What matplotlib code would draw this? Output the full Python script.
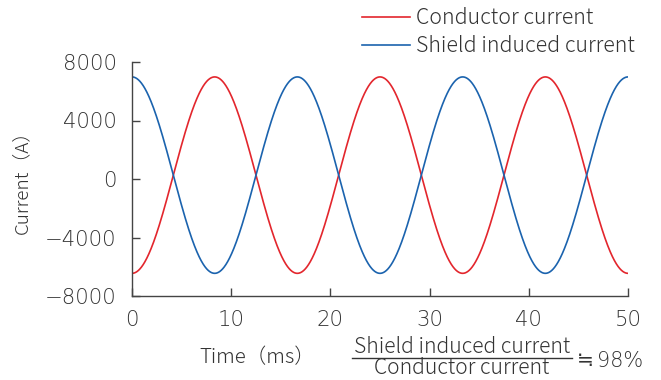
import numpy as np
import matplotlib
matplotlib.use("Agg")
import matplotlib.pyplot as plt
from matplotlib.lines import Line2D

plt.rcParams['font.family'] = ['Noto Sans CJK JP', 'DejaVu Sans']

# 60 Hz waveforms over 50 ms (values in A)
frequency_hz = 60.0
peak_high = 6980.0     # positive crest
peak_low = -6450.0     # negative crest
time_end_ms = 50.0
series_names = ["Conductor current", "Shield induced current"]
series_phase = [np.pi, 0.0]          # conductor starts at its negative crest, shield at its positive crest
series_colors = ["#e3262d", "#1b63ae"]
yticks = [-8000, -4000, 0, 4000, 8000]
ytick_labels = ["−8000", "−4000", "0", "4000", "8000"]
xticks = [0, 10, 20, 30, 40, 50]
ratio_sign = "≒"
ratio_value = "98%"

offset = (peak_high + peak_low) / 2
amp = (peak_high - peak_low) / 2
t = np.linspace(0, time_end_ms, 2001)

fig = plt.figure(figsize=(6.61, 3.80), dpi=100)
W, H = 661, 380
ax = fig.add_axes([132 / W, 1 - 296 / H, (628 - 132) / W, (296 - 62) / H])

lines = []
for name, ph, col in zip(series_names, series_phase, series_colors):
    y = offset + amp * np.cos(2 * np.pi * frequency_hz * t / 1000.0 + ph)
    ln, = ax.plot(t, y, color=col, lw=1.2, label=name)
    lines.append(ln)

txt = "#333333"
tick_font = dict(family="DejaVu Sans", size=15.3, color=txt, weight=200)
ax.set_xlim(0, time_end_ms)
ax.set_ylim(-8000, 8000)
ax.set_xticks(xticks)
ax.set_xticklabels([str(v) for v in xticks], **tick_font)
ax.set_yticks(yticks)
ax.set_yticklabels(ytick_labels, **tick_font)
for s in ["top", "right"]:
    ax.spines[s].set_visible(False)
for s in ["left", "bottom"]:
    ax.spines[s].set_color("#444444")
    ax.spines[s].set_linewidth(1.0)
ax.tick_params(direction="in", length=6, width=1.0, color="#444444")
ax.tick_params(axis="y", pad=11)
ax.tick_params(axis="x", pad=10)

lab = dict(fontsize=15.2, color=txt, weight="light")
fig.text(22 / W, 1 - 177 / H, "Current（A）", rotation=90, ha="center", va="center",
         fontsize=13.6, color=txt, weight="light")
fig.text(257 / W, 1 - 358 / H, "Time（ms）", ha="center", va="center",
         fontsize=14.8, color=txt, weight="light")

# ratio annotation as a fraction
fig.text(462 / W, 1 - 347 / H, series_names[1], ha="center", va="center", **lab)
fig.text(462 / W, 1 - 368 / H, series_names[0], ha="center", va="center", **lab)
fig.add_artist(Line2D([352 / W, 572 / W], [1 - 358 / H, 1 - 358 / H],
                      color=txt, lw=1.0, transform=fig.transFigure))
fig.text(577 / W, 1 - 361 / H, ratio_sign, ha="left", va="center",
         family=["DejaVu Sans", "Noto Sans CJK JP"], fontsize=14.5, color=txt)
fig.text(597 / W, 1 - 361 / H, ratio_value, ha="left", va="center",
         family="DejaVu Sans", weight=200, fontsize=15.0, color=txt)

leg = fig.legend(handles=lines, loc="upper left", bbox_to_anchor=(358 / W, 1 - 3 / H),
                 frameon=False, handlelength=2.25, handletextpad=0.28,
                 labelspacing=0.28, borderpad=0.2, borderaxespad=0.0,
                 prop=dict(family="Noto Sans CJK JP", size=15.3, weight="light"),
                 labelcolor=txt)

fig.savefig("out.png", dpi=100)
